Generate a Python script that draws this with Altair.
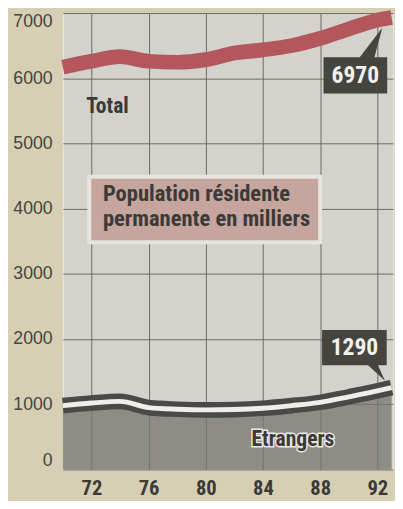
import altair as alt
import pandas as pd

# ---- data ----
years = [70, 72, 74, 76, 78, 80, 82, 84, 86, 88, 90, 92, 93]
total = [6170, 6260, 6330, 6260, 6245, 6285, 6385, 6435, 6500, 6610, 6755, 6890, 6930]
etrangers = [980, 1020, 1045, 950, 925, 915, 920, 940, 980, 1030, 1115, 1205, 1255]
x_ticks = [72, 76, 80, 84, 88, 92]
y_ticks = [0, 1000, 2000, 3000, 4000, 5000, 6000, 7000]
callout_labels = ["6970", "1290"]
title_lines = ["Population résidente", "permanente en milliers"]

df = pd.DataFrame({"year": years, "total": total, "etr": etrangers})
last = pd.DataFrame({
    "year": [years[-1], years[-1]],
    "value": [total[-1], etrangers[-1]],
    "label": callout_labels,
    "series": ["Total", "Etrangers"],
})

NARROW = "Roboto Condensed, DejaVu Sans Condensed, sans-serif"
DARK = "#3b3a36"

xs = alt.Scale(domain=[70, 93.1], nice=False, zero=False)
ys = alt.Scale(domain=[0, 7000], nice=False)

X = alt.X("year:Q", scale=xs,
          axis=alt.Axis(values=x_ticks, title=None, grid=True, domain=False, ticks=False,
                        labelFont=NARROW, labelFontWeight="bold", labelFontSize=21,
                        labelColor=DARK, labelBaseline="alphabetic", labelPadding=25,
                        gridColor="#6a6964", gridWidth=1))

Yaxis = alt.Axis(values=y_ticks, format="d", title=None, grid=True, domain=False, ticks=False,
                 labelFont="Liberation Sans, Arial, sans-serif", labelFontSize=18,
                 labelColor="#45443f", labelPadding=11, labelFlush=True,
                 gridColor="#6a6964", gridWidth=1)

base = alt.Chart(df)

area = base.mark_area(color="#76756f", opacity=0.75, interpolate="monotone").encode(
    x=X, y=alt.Y("etr:Q", scale=ys, axis=Yaxis))

etr_dark = base.mark_line(color="#4a4945", strokeWidth=16, interpolate="monotone").encode(
    x=alt.X("year:Q", scale=xs), y=alt.Y("etr:Q", scale=ys))
etr_white = base.mark_line(color="#efeee8", strokeWidth=5, interpolate="monotone").encode(
    x=alt.X("year:Q", scale=xs), y=alt.Y("etr:Q", scale=ys))

tot_line = base.mark_line(color="#b3575d", strokeWidth=15, interpolate="monotone").encode(
    x=alt.X("year:Q", scale=xs), y=alt.Y("total:Q", scale=ys))

# ---- title box ----
title_box_df = pd.DataFrame({"x": [71.85], "x2": [88.0], "y": [4490], "y2": [3485]})
title_box = alt.Chart(title_box_df).mark_rect(
    fill="#c6a59e", stroke="#e6e4de", strokeWidth=4).encode(
    x=alt.X("x:Q", scale=xs), x2="x2:Q", y=alt.Y("y:Q", scale=ys), y2="y2:Q")

title_text = alt.Chart(pd.DataFrame({"x": [72.8], "y": [4221], "t": ["\n".join(title_lines)]})).mark_text(
    align="left", baseline="middle", font=NARROW, fontWeight="bold", fontSize=23,
    lineBreak="\n", lineHeight=25, color=DARK).encode(
    x=alt.X("x:Q", scale=xs), y=alt.Y("y:Q", scale=ys), text="t:N")

# ---- series labels ----
total_lbl = alt.Chart(pd.DataFrame({"x": [71.64], "y": [5573], "t": ["Total"]})).mark_text(
    align="left", baseline="middle", font=NARROW, fontWeight="bold", fontSize=22,
    color=DARK).encode(x=alt.X("x:Q", scale=xs), y=alt.Y("y:Q", scale=ys), text="t:N")

etr_lbl_df = pd.DataFrame({"x": [83.2], "y": [466], "t": ["Etrangers"]})
etr_halo = alt.Chart(etr_lbl_df).mark_text(
    align="left", baseline="middle", font=NARROW, fontWeight="bold", fontSize=22,
    color="#e8e7e1", stroke="#e8e7e1", strokeWidth=3).encode(
    x=alt.X("x:Q", scale=xs), y=alt.Y("y:Q", scale=ys), text="t:N")
etr_lbl = alt.Chart(etr_lbl_df).mark_text(
    align="left", baseline="middle", font=NARROW, fontWeight="bold", fontSize=22,
    color=DARK).encode(x=alt.X("x:Q", scale=xs), y=alt.Y("y:Q", scale=ys), text="t:N")

# ---- callouts (box + pointer as a custom symbol anchored at the last point) ----
tot_shape = "M-0.65,-0.37L0.09,-0.37L0.55,-0.97L0.39,-0.37L0.65,-0.37L0.65,0.37L-0.65,0.37Z"
etr_shape = "M-0.825,-0.45L0.825,-0.45L0.825,0.45L0.6,0.45L0.78,0.85L0.35,0.45L-0.825,0.45Z"

lt = alt.Chart(last).transform_filter(alt.datum.series == "Total")
le = alt.Chart(last).transform_filter(alt.datum.series == "Etrangers")
enc = dict(x=alt.X("year:Q", scale=xs), y=alt.Y("value:Q", scale=ys))

tot_box = lt.mark_point(shape=tot_shape, size=10000, filled=True, fill="#45443f",
                        strokeWidth=0, opacity=1, xOffset=-37, yOffset=59).encode(**enc)
tot_txt = lt.mark_text(font=NARROW, fontWeight="bold", fontSize=24, color="#f2f1ec",
                       align="center", baseline="middle", xOffset=-37, yOffset=60).encode(
    text="label:N", **enc)
etr_box = le.mark_point(shape=etr_shape, size=6400, filled=True, fill="#45443f",
                        strokeWidth=0, opacity=1, xOffset=-38, yOffset=-41).encode(**enc)
etr_txt = le.mark_text(font=NARROW, fontWeight="bold", fontSize=24, color="#f2f1ec",
                       align="center", baseline="middle", xOffset=-38, yOffset=-40).encode(
    text="label:N", **enc)

chart = alt.layer(
    area, etr_dark, etr_white, tot_line, title_box, title_text,
    total_lbl, etr_halo, etr_lbl, tot_box, tot_txt, etr_box, etr_txt
).properties(
    width=337, height=466,
    padding={"left": 56, "top": 0, "right": 2, "bottom": 27},
    autosize=alt.AutoSizeParams(type="none"),
    background="#d6cfb3",
).configure_view(fill="#d3d2cc", stroke="#ebeae4", strokeWidth=1)

chart.save("out.html", embed_options={"renderer": "svg", "actions": False})
